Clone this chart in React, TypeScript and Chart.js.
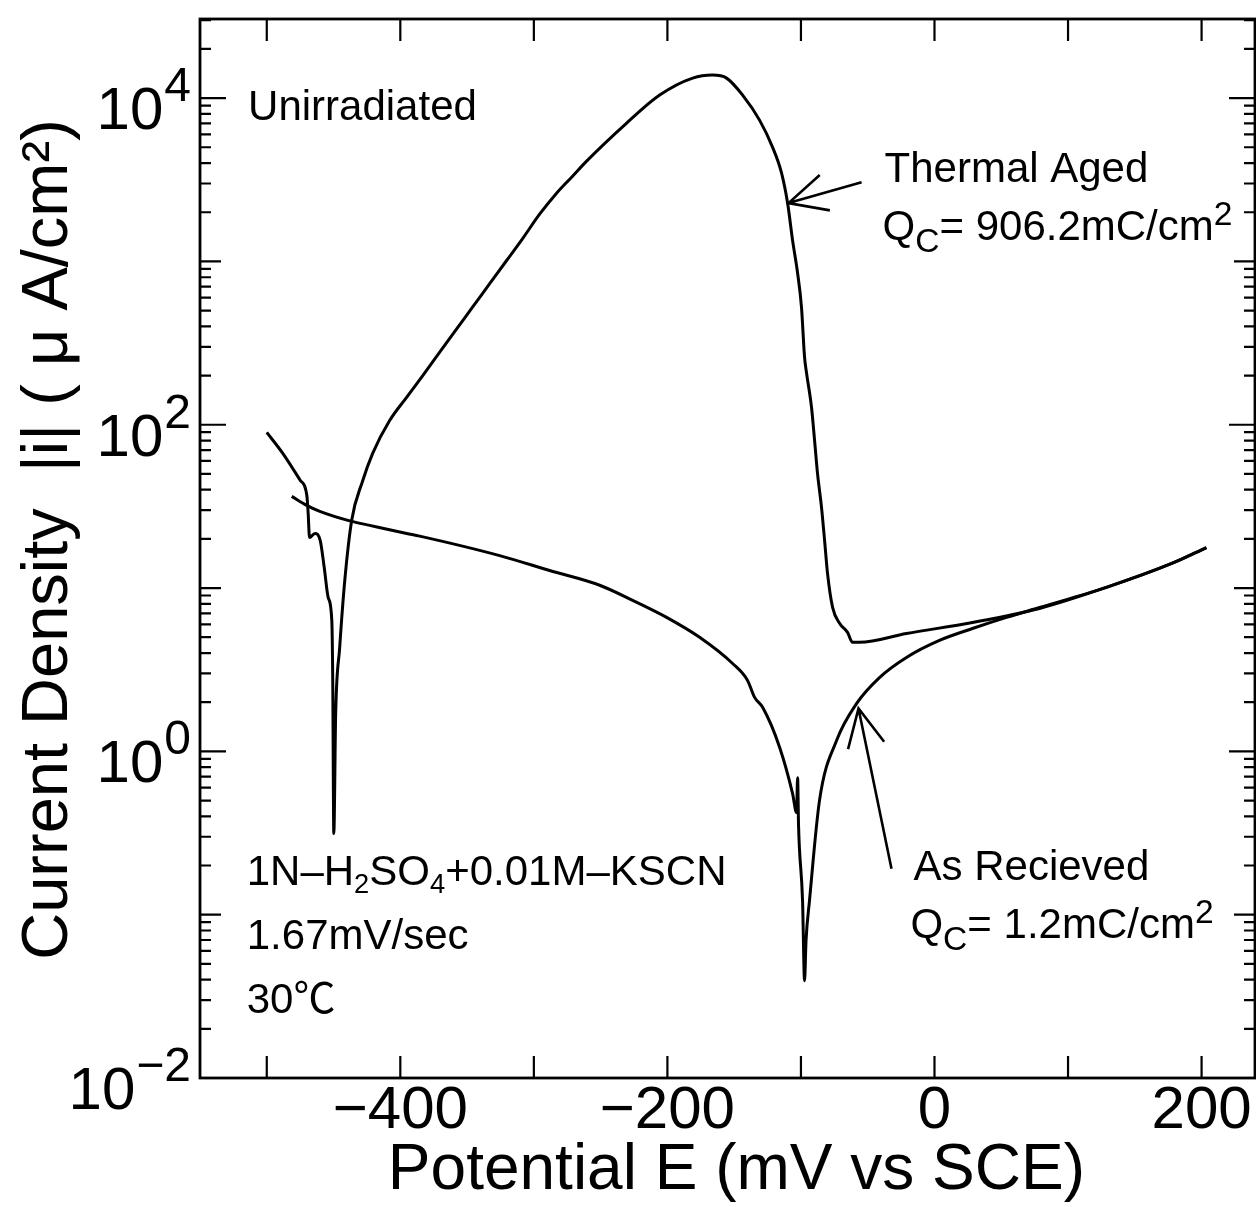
import { useEffect, useRef } from 'react';
import { Chart, registerables } from 'chart.js';

Chart.register(...registerables);

const FONT = "'Liberation Sans', Arial, Helvetica, 'Noto Sans CJK JP', sans-serif";

// Thermal Aged curve: potential (mV vs SCE) and |i| (µA/cm²)
const taPotential = [
  -500, -488, -475, -470, -469, -468, -464, -460, -457, -454, -451.3, -450.6, -449.8, -448.4,
  -445.4, -441.6, -436.4, -428.1, -420.7, -408, -395.3, -383.2, -370.5, -357.8, -345.8, -333.1,
  -320.4, -308.4, -295.7, -283, -271, -260.5, -230.5,
  -205.8, -181.1, -166.2, -155.7, -143.7, -131, -121.3, -114.5, -110, -106.3, -102.5, -99.6,
  -97.3, -95.8, -92.1, -89.8, -87.6, -84.6, -82.3, -80.1, -76.3, -71.1, -65.1, -61.4, -56.1,
  -21, 28.4, 78.6, 128.7, 178.1, 203.6,
];
const taCurrent = [
  89.8, 66.8, 45.7, 36.9, 28.6, 20.4, 21.6, 19.6, 13.4, 8.75, 6.32, 2.72, 0.314, 1.71,
  4.33, 11.1, 26.0, 45.6, 66.8, 106, 147, 200, 278, 386, 526, 730,
  1013, 1380, 1945, 2618, 3327, 4111, 7030,
  10430, 13250, 13830, 13250, 10430, 7330, 5010, 3470, 2275, 1350, 847, 525,
  259, 207, 128, 80.2, 50.4, 31.2, 19.6, 12.3, 7.62, 6.08, 5.35, 4.65, 4.65,
  5.27, 6.15, 7.5, 10.1, 14.2, 17.7,
];

// As Recieved curve
const arPotential = [
  -481.3, -470.1, -460.3, -436.4, -422.9, -395.2, -385.5, -325.6, -288.2, -250.7, -226,
  -200.6, -175.9, -151.2, -140, -134.7, -128.7, -116, -106.3, -103.3, -102.5, -101.8,
  -98.8, -97.3, -96.2, -93.6, -86.1, -73.4, -58.4, -41.2, -21, 3.7, 28.4, 53.9, 78.6,
  128.7, 178.1, 203.6,
];
const arCurrent = [
  36.4, 32.1, 29.5, 25.6, 24.2, 21.6, 20.8, 15.8, 12.8, 10.4, 8.4,
  6.61, 4.99, 3.45, 2.72, 2.14, 1.86, 1.06, 0.553, 0.422, 0.69, 0.352,
  0.122, 0.0394, 0.0693, 0.122, 0.501, 1.16, 1.96, 2.83, 3.76, 4.78, 5.65, 6.61, 7.6,
  10.1, 14.2, 17.7,
];

// Axis ticks
const xTickValues = [-500, -400, -300, -200, -100, 0, 100, 200];
const xLabeledTicks = [-400, -200, 0, 200];
const yDecades = [-2, -1, 0, 1, 2, 3, 4];
const yLabeledDecades = [-2, 0, 2, 4];

const xTitle = ' Potential E (mV vs SCE)';
const yTitle = ' Current Density  |i| ( \u03bc A/cm\u00b2)';

type Seg = { t: string; scale?: number; dy?: number };
type Note = { E: number; I: number; size: number; segs: Seg[] };

// Text annotations positioned in data coordinates (start of text, baseline)
const notes: Note[] = [
  { E: -514, I: 7330, size: 42, segs: [{ t: 'Unirradiated' }] },
  { E: -37.4, I: 3057, size: 42, segs: [{ t: 'Thermal Aged' }] },
  {
    E: -38.9, I: 1349, size: 42,
    segs: [{ t: 'Q' }, { t: 'C', scale: 0.8, dy: 12 }, { t: '= 906.2mC/cm' }, { t: '2', scale: 0.8, dy: -15 }],
  },
  { E: -15.7, I: 0.162, size: 42, segs: [{ t: 'As Recieved' }] },
  {
    E: -18, I: 0.0724, size: 42,
    segs: [{ t: 'Q' }, { t: 'C', scale: 0.8, dy: 12 }, { t: '= 1.2mC/cm' }, { t: '2', scale: 0.8, dy: -15 }],
  },
  {
    E: -515, I: 0.151, size: 42,
    segs: [
      { t: '1N\u2013H' }, { t: '2', scale: 0.65, dy: 8 }, { t: 'SO' }, { t: '4', scale: 0.65, dy: 8 },
      { t: '+0.01M\u2013KSCN' },
    ],
  },
  { E: -515, I: 0.0619, size: 42, segs: [{ t: '1.67mV/sec' }] },
  { E: -515, I: 0.0251, size: 42, segs: [{ t: '30\u2103' }] },
];

// Arrows: tip and tail in data coordinates
const arrows = [
  { tipE: -109.3, tipI: 2275, tailE: -54.6, tailI: 3057 },
  { tipE: -56.9, tipI: 1.83, tailE: -32.2, tailI: 0.191 },
];

function fmtX(v: number) {
  return v < 0 ? '\u2212' + Math.abs(v) : String(v);
}

const framePlugin = {
  id: 'frameAndNotes',
  afterDraw(chart: any) {
    const { ctx, chartArea: a } = chart;
    const x = chart.scales.x;
    const y = chart.scales.y;
    ctx.save();
    ctx.strokeStyle = '#000';
    ctx.fillStyle = '#000';
    ctx.lineCap = 'butt';

    // frame
    ctx.lineWidth = 2.8;
    ctx.strokeRect(a.left, a.top, a.right - a.left, a.bottom - a.top);

    // ticks (inward)
    ctx.lineWidth = 2.2;
    ctx.beginPath();
    for (const t of x.ticks) {
      const px = x.getPixelForValue(t.value);
      const len = 22;
      ctx.moveTo(px, a.bottom);
      ctx.lineTo(px, a.bottom - len);
      ctx.moveTo(px, a.top);
      ctx.lineTo(px, a.top + len);
    }
    for (const e of yDecades) {
      for (let m = 1; m <= 9; m++) {
        const v = m * Math.pow(10, e);
        if (v < y.min || v > y.max) continue;
        const py = y.getPixelForValue(v);
        const len = m === 1 ? (yLabeledDecades.includes(e) ? 26 : 21) : 11;
        ctx.moveTo(a.left, py);
        ctx.lineTo(a.left + len, py);
        ctx.moveTo(a.right, py);
        ctx.lineTo(a.right - len, py);
      }
    }
    ctx.stroke();

    // y tick labels 10^n
    ctx.textAlign = 'left';
    ctx.textBaseline = 'alphabetic';
    for (const e of yLabeledDecades) {
      const py = y.getPixelForValue(Math.pow(10, e));
      const sup = e < 0 ? '\u2212' + Math.abs(e) : String(e);
      ctx.font = `60px ${FONT}`;
      const w10 = ctx.measureText('10').width;
      ctx.font = `48px ${FONT}`;
      const ws = ctx.measureText(sup).width;
      const right = a.left - 9;
      const x0 = right - ws - w10 - 1;
      ctx.font = `60px ${FONT}`;
      ctx.fillText('10', x0, py + 31);
      ctx.font = `48px ${FONT}`;
      ctx.fillText(sup, x0 + w10 + 1, py + 3);
    }

    // annotations
    for (const n of notes) {
      let cx = x.getPixelForValue(n.E);
      const by = y.getPixelForValue(n.I);
      for (const s of n.segs) {
        const fs = n.size * (s.scale ?? 1);
        ctx.font = `${fs}px ${FONT}`;
        ctx.fillText(s.t, cx, by + (s.dy ?? 0));
        cx += ctx.measureText(s.t).width;
      }
    }

    // arrows (open heads)
    ctx.lineWidth = 2.6;
    for (const ar of arrows) {
      const tx = x.getPixelForValue(ar.tipE);
      const ty = y.getPixelForValue(ar.tipI);
      const sx = x.getPixelForValue(ar.tailE);
      const sy = y.getPixelForValue(ar.tailI);
      const ang = Math.atan2(sy - ty, sx - tx);
      const hl = 42;
      const ha = (26 * Math.PI) / 180;
      ctx.beginPath();
      ctx.moveTo(sx, sy);
      ctx.lineTo(tx, ty);
      ctx.moveTo(tx + hl * Math.cos(ang + ha), ty + hl * Math.sin(ang + ha));
      ctx.lineTo(tx, ty);
      ctx.lineTo(tx + hl * Math.cos(ang - ha), ty + hl * Math.sin(ang - ha));
      ctx.stroke();
    }
    ctx.restore();
  },
};

export default function App() {
  const ref = useRef<HTMLCanvasElement | null>(null);

  useEffect(() => {
    if (!ref.current) return;
    const lineStyle = {
      showLine: true,
      borderColor: '#000',
      backgroundColor: '#000',
      borderWidth: 3,
      pointRadius: 0,
      cubicInterpolationMode: 'monotone',
      fill: false,
    };
    const chart = new Chart(ref.current, {
      type: 'scatter',
      data: {
        datasets: [
          {
            label: 'Thermal Aged',
            data: taPotential.map((e, i) => ({ x: e, y: taCurrent[i] })),
            ...lineStyle,
          },
          {
            label: 'As Recieved',
            data: arPotential.map((e, i) => ({ x: e, y: arCurrent[i] })),
            ...lineStyle,
          },
        ],
      },
      options: {
        responsive: false,
        animation: false,
        devicePixelRatio: 1,
        layout: { padding: { top: 19, right: 1, left: 0, bottom: 0 } },
        plugins: { legend: { display: false }, tooltip: { enabled: false } },
        scales: {
          x: {
            type: 'linear',
            min: -550,
            max: 240,
            afterBuildTicks: (s: any) => {
              s.ticks = xTickValues.map((v) => ({ value: v }));
            },
            afterFit: (s: any) => {
              s.height = 129;
            },
            grid: { display: false, drawTicks: false },
            border: { display: false },
            ticks: {
              autoSkip: false,
              maxRotation: 0,
              padding: 3,
              color: '#000',
              font: { family: FONT, size: 60, lineHeight: 1 },
              callback: (v: any) => (xLabeledTicks.includes(Number(v)) ? fmtX(Number(v)) : ''),
            },
            title: {
              display: true,
              text: xTitle,
              color: '#000',
              font: { family: FONT, size: 64, lineHeight: 1 },
              padding: { top: 0, bottom: 4 },
            },
          },
          y: {
            type: 'logarithmic',
            min: 0.01,
            max: 30500,
            afterFit: (s: any) => {
              s.width = 200;
            },
            grid: { display: false, drawTicks: false },
            border: { display: false },
            ticks: { display: false },
            title: {
              display: true,
              text: yTitle,
              color: '#000',
              font: { family: FONT, size: 65, lineHeight: 1 },
              padding: { top: 17, bottom: 0 },
            },
          },
        },
      } as any,
      plugins: [framePlugin],
    });
    return () => chart.destroy();
  }, []);

  return (
    <div style={{ position: 'absolute', left: 0, top: 0, width: 1256, height: 1207, background: '#fff' }}>
      <canvas ref={ref} width={1256} height={1207} style={{ display: 'block' }} />
    </div>
  );
}
